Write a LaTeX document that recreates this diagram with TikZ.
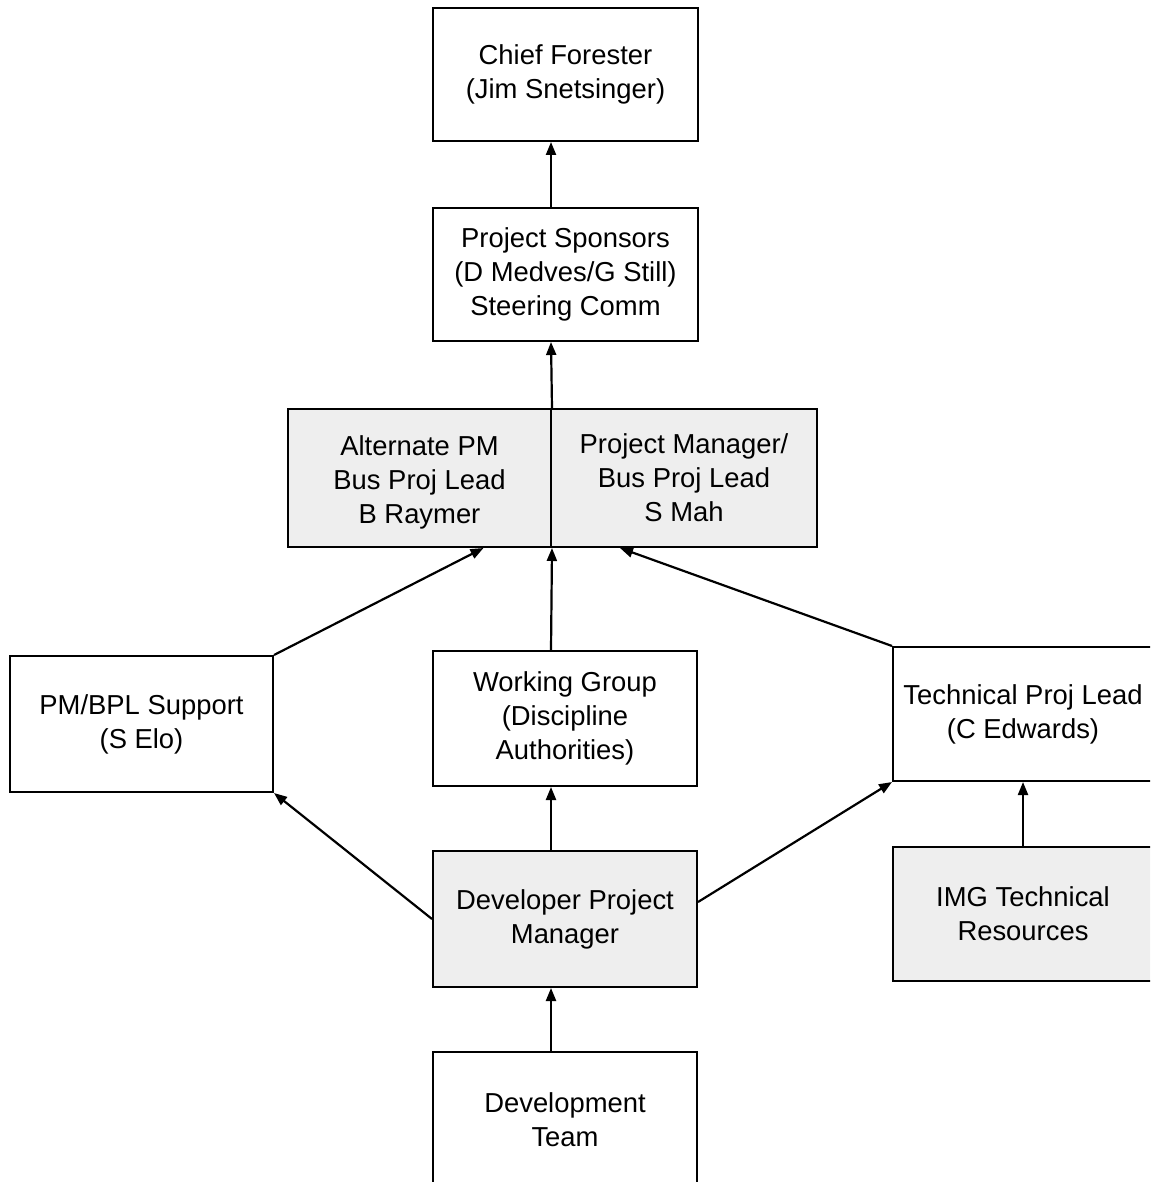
\documentclass[tikz,border=0pt]{standalone}
\usepackage{fontspec}
\setmainfont{Liberation Sans}
\usetikzlibrary{arrows.meta}
\begin{document}
\begin{tikzpicture}[x=0.5pt,y=-0.5pt,
 box/.style={draw,line width=1pt,rectangle,inner sep=0pt,align=center,
   font=\fontsize{13.7}{17}\selectfont},
 shaded/.style={fill=gray!13},
 arr/.style={line width=1.1pt,-{Triangle[length=6.5pt,width=5pt]}}]
\useasboundingbox (0,0) rectangle (1150,1182);
\clip (0,0) rectangle (1150,1182);
\node[box,minimum width=132.5pt,minimum height=66.5pt] (chief) at (565.5,74.5) {Chief Forester\\(Jim Snetsinger)};
\node[box,minimum width=132.5pt,minimum height=66.5pt] (spons) at (565.5,274.5) {Project Sponsors\\(D Medves/G Still)\\Steering Comm};
\node[box,shaded,minimum width=131.5pt,minimum height=69pt] (altpm) at (419.5,478) {\\[-3pt]Alternate PM\\Bus Proj Lead\\B Raymer};
\node[box,shaded,minimum width=133pt,minimum height=69pt] (pm) at (684,478) {Project Manager/\\Bus Proj Lead\\S Mah};
\node[box,minimum width=131.5pt,minimum height=68pt] (pmbpl) at (141.5,724) {PM/BPL Support\\(S Elo)};
\node[box,minimum width=132pt,minimum height=67.5pt] (wg) at (565,718.5) {Working Group\\(Discipline\\Authorities)};
\node[box,minimum width=130pt,minimum height=67pt] (tech) at (1023,714) {Technical Proj Lead\\(C Edwards)};
\node[box,shaded,minimum width=132pt,minimum height=68pt] (devpm) at (565,919) {Developer Project\\Manager};
\node[box,shaded,minimum width=130pt,minimum height=67pt] (img) at (1023,914) {IMG Technical\\Resources};
\node[box,minimum width=132pt,minimum height=67.5pt] (devteam) at (565,1119.5) {Development\\Team};

\draw[arr] ([xshift=-7.25pt]spons.north) -- ([xshift=-7.25pt]chief.south);
\draw[arr] (altpm.north east) -- ([xshift=-7.25pt]spons.south);
\draw[arr] ([xshift=-7pt]wg.north) -- (altpm.south east);
\draw[arr] (pmbpl.north east) -- ([xshift=32pt]altpm.south);
\draw[arr] (tech.north west) -- ([xshift=-32pt]pm.south);
\draw[arr] ([xshift=-7pt]devpm.north) -- ([xshift=-7pt]wg.south);
\draw[arr] (devpm.west) -- (pmbpl.south east);
\draw[arr] ([yshift=8.5pt]devpm.east) -- (tech.south west);
\draw[arr] (img.north) -- (tech.south);
\draw[arr] ([xshift=-7pt]devteam.north) -- ([xshift=-7pt]devpm.south);
\end{tikzpicture}
\end{document}
